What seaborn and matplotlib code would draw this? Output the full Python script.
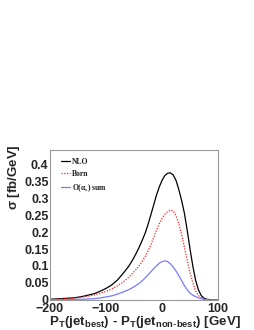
import numpy as np
import pandas as pd
import seaborn as sns
import matplotlib
matplotlib.use("Agg")
import matplotlib.pyplot as plt
from matplotlib.ticker import MultipleLocator, FixedLocator

# P_T(jet_best) - P_T(jet_non-best) in GeV
dpt = [-200, -190, -180, -170, -160, -150, -140, -130, -120, -110, -100,
       -90, -80, -70, -60, -55, -50, -45, -40, -35, -30, -25, -20, -15, -10, -5,
       0, 5, 10, 15, 20, 25, 30, 35, 40, 45, 50, 55, 60, 65, 70, 75, 80, 85,
       90, 100]

nlo = [0.002, 0.003, 0.004, 0.005, 0.006, 0.008, 0.011, 0.015, 0.019, 0.026, 0.034,
       0.044, 0.058, 0.077, 0.098, 0.111, 0.125, 0.141, 0.158, 0.177, 0.197, 0.222,
       0.250, 0.279, 0.308, 0.332, 0.352, 0.366, 0.373, 0.374, 0.368, 0.352, 0.325,
       0.293, 0.255, 0.205, 0.150, 0.100, 0.058, 0.030, 0.013, 0.005, 0.002, 0.001,
       0.0, 0.0]

born = [0.001, 0.002, 0.003, 0.004, 0.005, 0.007, 0.009, 0.012, 0.015, 0.020, 0.025,
        0.032, 0.041, 0.052, 0.066, 0.074, 0.083, 0.092, 0.103, 0.115, 0.128, 0.144,
        0.162, 0.183, 0.205, 0.224, 0.240, 0.252, 0.260, 0.264, 0.262, 0.248, 0.225,
        0.193, 0.155, 0.117, 0.080, 0.050, 0.027, 0.013, 0.006, 0.002, 0.001, 0.0,
        0.0, 0.0]

oas = [0.000, 0.001, 0.001, 0.001, 0.001, 0.002, 0.002, 0.003, 0.004, 0.006, 0.009,
       0.012, 0.017, 0.023, 0.030, 0.034, 0.039, 0.044, 0.050, 0.057, 0.065, 0.074,
       0.083, 0.092, 0.100, 0.108, 0.113, 0.115, 0.113, 0.106, 0.097, 0.085, 0.072,
       0.057, 0.042, 0.030, 0.020, 0.014, 0.010, 0.006, 0.004, 0.002, 0.001, 0.0,
       0.0, 0.0]

df = pd.DataFrame({"dpt": dpt, "NLO": nlo, "Born": born, r"O($\alpha_s$) sum": oas})
long = df.melt(id_vars="dpt", var_name="curve", value_name="sigma")

sns.set_theme(style="white")
plt.rcParams["font.family"] = ["Liberation Sans", "DejaVu Sans"]
plt.rcParams["mathtext.default"] = "regular"

fig = plt.figure(figsize=(2.55, 3.3), dpi=100)
ax = fig.add_axes([0.196, 0.091, 0.659, 0.454])

palette = {"NLO": "black", "Born": "#ff2020", r"O($\alpha_s$) sum": "#7a7aff"}
dashes = {"NLO": "", "Born": (1, 1.2), r"O($\alpha_s$) sum": ""}
sns.lineplot(data=long, x="dpt", y="sigma", hue="curve", style="curve",
             palette=palette, dashes=dashes, linewidth=0.9, ax=ax, legend=True)

ax.set_xlim(-200, 100)
ax.set_ylim(0, 0.441)

ax.xaxis.set_major_locator(FixedLocator([-200, -100, 0, 100]))
ax.xaxis.set_minor_locator(MultipleLocator(20))
ax.yaxis.set_minor_locator(MultipleLocator(0.01))
ax.set_yticks(np.arange(0, 0.41, 0.05))
ax.set_yticklabels(["0", "0.05", "0.1", "0.15", "0.2", "0.25", "0.3", "0.35", "0.4"])

ax.tick_params(which="both", direction="in", color="#555555", width=0.6,
               top=False, right=False, labelsize=9.0)
ax.tick_params(axis="y", pad=1.0)
ax.tick_params(axis="x", pad=2.2)
ax.tick_params(which="major", length=4.5)
ax.tick_params(which="minor", length=2)
for lab in ax.get_xticklabels() + ax.get_yticklabels():
    lab.set_fontweight("bold")

for sp in ax.spines.values():
    sp.set_color("#999999")
    sp.set_linewidth(0.8)

ax.set_xlabel(r"P$_T$(jet$_{best}$) - P$_T$(jet$_{non\text{-}best}$) [GeV]",
              fontsize=9.6, fontweight="bold")
ax.xaxis.set_label_coords(0.565, -0.093)
ax.set_ylabel(r"$\sigma$ [fb/GeV]", fontsize=9.5, fontweight="bold", loc="top")
ax.yaxis.set_label_coords(-0.165, 1.04)

leg = ax.legend(loc="upper left", frameon=False,
                prop={"family": "Liberation Serif", "weight": "bold", "size": 5.5},
                handlelength=1.1, handletextpad=0.3, labelspacing=0.55,
                borderaxespad=0.4, bbox_to_anchor=(0.03, 0.99))
for t in leg.get_texts():
    t.set_color("#222222")

fig.savefig("out.png", dpi=100)
